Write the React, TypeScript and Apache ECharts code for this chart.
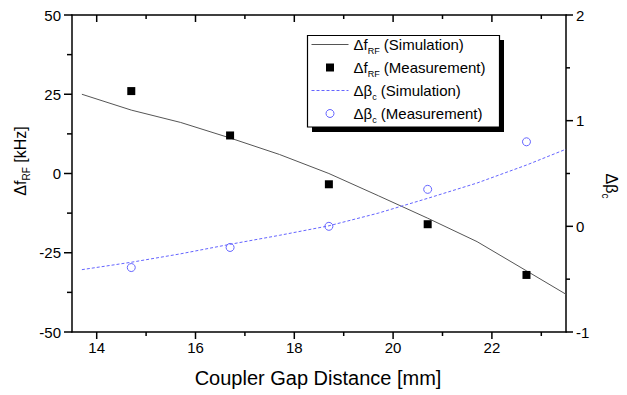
import React, { useEffect, useRef } from 'react';
import * as echarts from 'echarts';

// ---- data ----
const gapSim = [13.7, 14.7, 15.7, 16.7, 17.7, 18.7, 19.7, 20.7, 21.7, 22.7, 23.5];
const dfSim = [25.0, 20.0, 16.1, 11.2, 6.0, 0.0, -7.0, -14.1, -21.5, -30.7, -38.1];
const dbSim = [-0.41, -0.34, -0.26, -0.17, -0.085, 0.005, 0.125, 0.265, 0.41, 0.58, 0.73];
const gapMeas = [14.7, 16.7, 18.7, 20.7, 22.7];
const dfMeas = [26.0, 12.0, -3.4, -16.0, -32.0];
const dbMeas = [-0.39, -0.2, 0.0, 0.35, 0.8];
const xMajorTicks = [14, 16, 18, 20, 22];
const xMinorTicks = [15, 17, 19, 21, 23];
const yLeftMajorTicks = [-50, -25, 0, 25, 50];
const yLeftMinorTicks = [-37.5, -12.5, 12.5, 37.5];
const yRightMajorTicks = [-1, 0, 1, 2];
const yRightMinorTicks = [-0.5, 0.5, 1.5];
const seriesNames = ['dfSim', 'dfMeas', 'dbSim', 'dbMeas'];
const legendLabels: Record<string, string> = {
  dfSim: '{m|Δf}{s|RF}{m| (Simulation)}',
  dfMeas: '{m|Δf}{s|RF}{m| (Measurement)}',
  dbSim: '{m|Δβ}{s|c}{m| (Simulation)}',
  dbMeas: '{m|Δβ}{s|c}{m| (Measurement)}',
};
const xTitle = 'Coupler Gap Distance [mm]';
const yLeftTitle = '{m|Δf}{s|RF}{m| [kHz]}';
const yRightTitle = '{m|Δβ}{s|c}';

const FONT = '"Liberation Sans", Arial, Helvetica, sans-serif';
const BLUE = '#6464ff';
const GRAY = '#555';
const SQUARE = 'path://M0 0H10V10H0Z';
const TICK_STYLE = { stroke: '#000', lineWidth: 1.5 };

function zip(xs: number[], ys: number[]) {
  return xs.map((x, i) => [x, ys[i]]);
}

// tick marks drawn through the axes' own scales (api.coord) on the frame
function xTickSeries(values: number[], len: number) {
  return {
    type: 'custom',
    xAxisIndex: 0,
    yAxisIndex: 0,
    silent: true,
    clip: false,
    z: 10,
    data: values.map((v) => [v, 0]),
    renderItem: (params: any, api: any) => {
      const cs = params.coordSys;
      const x = api.coord([api.value(0), 0])[0];
      const bottom = cs.y + cs.height;
      const top = cs.y;
      return {
        type: 'group',
        children: [
          { type: 'line', shape: { x1: x, y1: bottom, x2: x, y2: bottom + len }, style: TICK_STYLE },
          { type: 'line', shape: { x1: x, y1: top, x2: x, y2: top + len }, style: TICK_STYLE },
        ],
      };
    },
  };
}
function yTickSeries(values: number[], yAxisIndex: number, len: number, side: 'left' | 'right') {
  return {
    type: 'custom',
    xAxisIndex: 0,
    yAxisIndex,
    silent: true,
    clip: false,
    z: 10,
    data: values.map((v) => [14, v]),
    renderItem: (params: any, api: any) => {
      const cs = params.coordSys;
      const y = api.coord([14, api.value(1)])[1];
      const x0 = side === 'left' ? cs.x : cs.x + cs.width;
      const x1 = side === 'left' ? x0 - len : x0 + len;
      return { type: 'line', shape: { x1: x0, y1: y, x2: x1, y2: y }, style: TICK_STYLE };
    },
  };
}

export default function App() {
  const ref = useRef<HTMLDivElement>(null);
  useEffect(() => {
    if (!ref.current) return;
    const chart = echarts.init(ref.current, undefined, { renderer: 'svg' });
    const titleRich = {
      m: { fontSize: 16, fontFamily: FONT, color: '#000', lineHeight: 22 },
      s: { fontSize: 10, fontFamily: FONT, color: '#000', lineHeight: 10, verticalAlign: 'bottom' },
    };
    chart.setOption({
      animation: false,
      grid: { left: 72, right: 61, top: 15, bottom: 63 },
      xAxis: [
        {
          type: 'value', min: 13.5, max: 23.5, position: 'bottom',
          splitLine: { show: false },
          axisLine: { show: true, onZero: false, lineStyle: { color: '#000', width: 1.5 } },
          axisTick: { show: false },
          axisLabel: { show: true, customValues: xMajorTicks, margin: 8, fontSize: 15, fontFamily: FONT, color: '#000' },
        },
        {
          type: 'value', min: 13.5, max: 23.5, position: 'top',
          splitLine: { show: false },
          axisLine: { show: true, onZero: false, lineStyle: { color: '#000', width: 1.5 } },
          axisTick: { show: false },
          axisLabel: { show: false },
        },
      ],
      yAxis: [
        {
          type: 'value',
          position: 'left',
          min: -50,
          max: 50,
          interval: 25,
          splitLine: { show: false },
          axisLine: { show: true, onZero: false, lineStyle: { color: '#000', width: 1.5 } },
          axisTick: { show: false },
          axisLabel: { show: true, margin: 11, fontSize: 15, fontFamily: FONT, color: '#000' },
        },
        {
          type: 'value',
          position: 'right',
          min: -1,
          max: 2,
          interval: 1,
          splitLine: { show: false },
          axisLine: { show: true, onZero: false, lineStyle: { color: '#000', width: 1.5 } },
          axisTick: { show: false },
          axisLabel: { show: true, margin: 10, fontSize: 15, fontFamily: FONT, color: '#000' },
        },
      ],
      legend: {
        orient: 'vertical',
        left: 311,
        top: 37,
        padding: 0,
        itemGap: 4.5,
        itemWidth: 37,
        itemHeight: 8,
        selectedMode: false,
        symbolKeepAspect: true,
        data: [
          { name: 'dfSim', itemStyle: { opacity: 0 }, lineStyle: { width: 1, color: GRAY } },
          { name: 'dfMeas', icon: SQUARE, itemStyle: { color: '#000', opacity: 1 } },
          { name: 'dbSim', itemStyle: { opacity: 0 }, lineStyle: { width: 1, color: BLUE, type: [3, 2] } },
          {
            name: 'dbMeas',
            icon: 'circle',
            itemStyle: { color: 'rgba(0,0,0,0)', borderColor: BLUE, borderWidth: 1, opacity: 1 },
          },
        ],
        formatter: (n: string) => legendLabels[n],
        textStyle: {
          fontSize: 15,
          fontFamily: FONT,
          color: '#000',
          rich: {
            m: { fontSize: 15, fontFamily: FONT, color: '#000', lineHeight: 22 },
            s: { fontSize: 9, fontFamily: FONT, color: '#000', lineHeight: 9, verticalAlign: 'bottom' },
          },
        },
      },
      graphic: [
        {
          type: 'rect',
          z: 3,
          shape: { x: 312, y: 40, width: 192, height: 92 },
          style: { fill: '#000' },
        },
        {
          type: 'rect',
          z: 3,
          shape: { x: 307.5, y: 35.5, width: 192, height: 91.5 },
          style: { fill: '#fff', stroke: '#000', lineWidth: 1.2 },
        },
        {
          type: 'text',
          x: 318,
          y: 378,
          style: {
            text: xTitle,
            fontSize: 20,
            fontFamily: FONT,
            fill: '#000',
            align: 'center',
            verticalAlign: 'middle',
          },
        },
        {
          type: 'text',
          x: 20,
          y: 161,
          rotation: Math.PI / 2,
          style: { text: yLeftTitle, rich: titleRich, align: 'center', verticalAlign: 'middle' },
        },
        {
          type: 'text',
          x: 611,
          y: 186,
          rotation: -Math.PI / 2,
          style: { text: yRightTitle, rich: titleRich, align: 'center', verticalAlign: 'middle' },
        },
      ],
      series: [
        {
          name: seriesNames[0],
          type: 'line',
          xAxisIndex: 0,
          yAxisIndex: 0,
          data: zip(gapSim, dfSim),
          symbol: 'none',
          color: GRAY,
          lineStyle: { color: GRAY, width: 1 },
          z: 2,
        },
        {
          name: seriesNames[1],
          type: 'scatter',
          xAxisIndex: 0,
          yAxisIndex: 0,
          data: zip(gapMeas, dfMeas),
          symbol: 'rect',
          symbolSize: 8,
          itemStyle: { color: '#000', opacity: 1 },
          z: 3,
        },
        {
          name: seriesNames[2],
          type: 'line',
          xAxisIndex: 0,
          yAxisIndex: 1,
          data: zip(gapSim, dbSim),
          symbol: 'none',
          color: BLUE,
          lineStyle: { color: BLUE, width: 1, type: [3, 2] },
          z: 2,
        },
        {
          name: seriesNames[3],
          type: 'scatter',
          xAxisIndex: 0,
          yAxisIndex: 1,
          data: zip(gapMeas, dbMeas),
          symbol: 'circle',
          symbolSize: 8,
          itemStyle: { color: 'rgba(0,0,0,0)', borderColor: BLUE, borderWidth: 1, opacity: 1 },
          z: 3,
        },
        xTickSeries(xMajorTicks, 7),
        xTickSeries(xMinorTicks, 4),
        yTickSeries(yLeftMajorTicks, 0, 8, 'left'),
        yTickSeries(yLeftMinorTicks, 0, 5, 'left'),
        yTickSeries(yRightMajorTicks, 1, 7, 'right'),
        yTickSeries(yRightMinorTicks, 1, 4, 'right'),
      ],
    });
    return () => chart.dispose();
  }, []);
  return (
    <div
      ref={ref}
      style={{ position: 'fixed', left: 0, top: 0, width: 627, height: 395, background: '#fff' }}
    />
  );
}
